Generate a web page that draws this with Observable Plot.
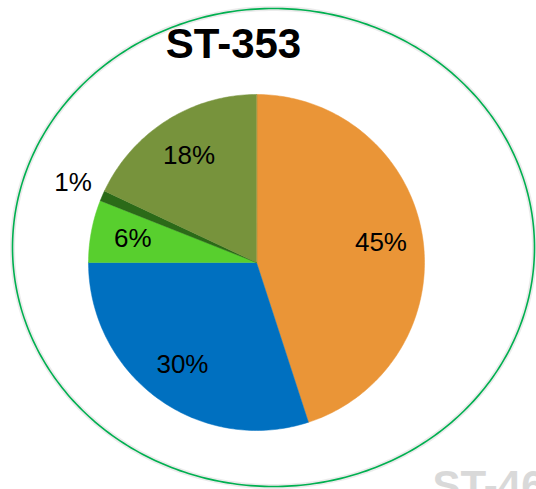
<!DOCTYPE html>
<html><head><meta charset="utf-8">
<script src="https://cdn.jsdelivr.net/npm/d3@7"></script>
<script src="https://cdn.jsdelivr.net/npm/@observablehq/plot@0.6"></script>
<style>body{margin:0;background:#fff}svg{display:block}</style>
</head><body><div id="chart"></div>
<script>
// ---- data ----
const title = "ST-353";
const nextTitle = "ST-46";
const categories = ["Orange", "Blue", "Light green", "Dark green", "Olive"];
const values = [45, 30, 6, 1, 18];
const labels = ["45%", "30%", "6%", "1%", "18%"];
const colors = ["#EA9537", "#0070C0", "#58CF2E", "#2B6A18", "#77933C"];

// ---- geometry in data units (pie radius = 1) ----
const W = 536, H = 489, R = 168, CX = 256, CY = 262;
const xDomain = [-CX / R, (W - CX) / R];
const yDomain = [-(H - CY) / R, CY / R];

const total = d3.sum(values);
let acc = 0;
const slices = values.map((v, i) => {
  const a0 = acc / total * 2 * Math.PI;
  acc += v;
  const a1 = acc / total * 2 * Math.PI;
  return {cat: categories[i], label: labels[i], color: colors[i], value: v, a0, a1};
});

function slicePoints(s) {
  const pts = [{x: 0, y: 0}];
  const n = Math.max(2, Math.ceil((s.a1 - s.a0) / (Math.PI / 180)));
  for (let k = 0; k <= n; k++) {
    const a = s.a0 + (s.a1 - s.a0) * k / n;
    pts.push({x: Math.sin(a), y: Math.cos(a)});
  }
  return pts;
}

const labelPts = slices.map(s => {
  const m = (s.a0 + s.a1) / 2;
  const r = s.value / total < 0.03 ? 1.19 : 0.75;
  return {x: r * Math.sin(m), y: r * Math.cos(m), label: s.label};
});

// outer ellipse frame
const ell = {cx: 17 / R, cy: 15 / R, rx: 261 / R, ry: 239 / R};
const ellPts = d3.range(0, 361, 1).map(d => {
  const a = d * Math.PI / 180;
  return {x: ell.cx + ell.rx * Math.cos(a), y: ell.cy + ell.ry * Math.sin(a)};
});

const plot = Plot.plot({
  width: W, height: H, margin: 0,
  x: {domain: xDomain, axis: null},
  y: {domain: yDomain, axis: null},
  style: {fontFamily: "Liberation Sans, Arial, sans-serif", background: "#fff"},
  marks: [
    Plot.line(ellPts, {x: "x", y: "y", stroke: "#d8d8d8", strokeWidth: 5, strokeOpacity: 0.5, curve: "linear-closed"}),
    Plot.line(ellPts, {x: "x", y: "y", stroke: "#00B050", strokeWidth: 1.6, curve: "linear-closed"}),
    ...slices.map(s => Plot.line(slicePoints(s), {x: "x", y: "y", fill: s.color, stroke: s.color, strokeWidth: 0.5, curve: "linear-closed"})),
    Plot.text(labelPts, {x: "x", y: "y", text: "label", fontSize: 26, fill: "#000"}),
    Plot.text([title], {x: -23 / R, y: (CY - 44) / R, text: d => d, fontSize: 42, fontWeight: "bold", fill: "#000"}),
    Plot.text([nextTitle], {x: (432 - CX) / R, y: (CY - 486) / R, text: d => d, fontSize: 42, fontWeight: "bold", fill: "#d9d9d9", textAnchor: "start"})
  ]
});
document.getElementById("chart").appendChild(plot);
</script>
</body></html>
